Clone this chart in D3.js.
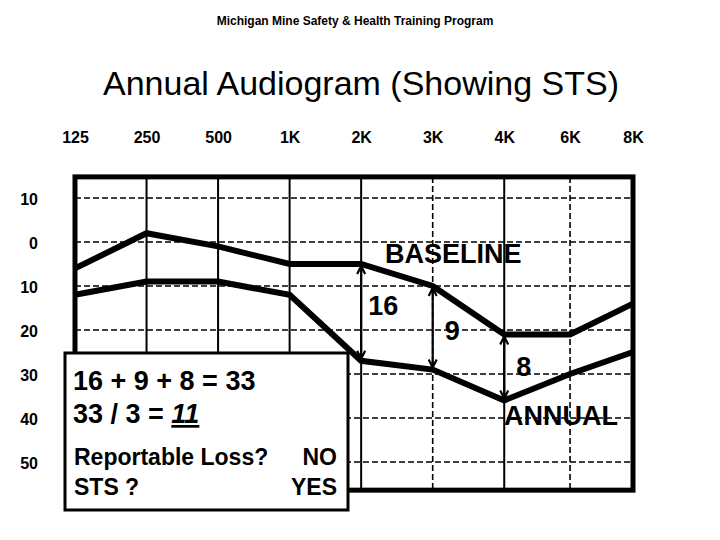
<!DOCTYPE html>
<html>
<head>
<meta charset="utf-8">
<script src="https://cdn.jsdelivr.net/npm/d3@7"></script>
<style>
  body { margin: 0; background: #fff; }
  svg { display: block; font-family: "Liberation Sans", Arial, sans-serif; }
</style>
</head>
<body>
<svg id="chart" width="720" height="540"></svg>
<script>
// frequencies across the top, with their spacing along the axis (6K and 8K are squeezed)
const freqLabels = ["125", "250", "500", "1K", "2K", "3K", "4K", "6K", "8K"];
const freqPos = [0, 1, 2, 3, 4, 5, 6, 6.92, 7.8];
const solidGrid = ["250", "500", "1K", "2K", "4K"];
const dashedGrid = ["3K", "6K"];

// hearing level ticks (dB)
const dbTicks = [-10, 0, 10, 20, 30, 40, 50];

// thresholds (dB)
const baseline = [6, -2, 1, 5, 5, 10, 21, 21, 14];
const annual = [12, 9, 9, 12, 27, 29, 36, 30, 25];

// shift arrows at 2K, 3K, 4K
const shiftFreqs = ["2K", "3K", "4K"];
const shiftLabels = ["16", "9", "8"];

const svg = d3.select("#chart");

const x = d3.scaleLinear().domain([0, 7.8]).range([75, 633]);
const y = d3.scaleLinear().domain([-10, 50]).range([198, 462]);
const posOf = f => freqPos[freqLabels.indexOf(f)];

const frameTop = y(-14.8), frameBottom = y(56.4);

// titles
svg.append("text")
    .attr("x", 355).attr("y", 25)
    .attr("text-anchor", "middle")
    .style("font-weight", "bold")
    .style("font-size", "12px")
    .text("Michigan Mine Safety & Health Training Program");

svg.append("text")
    .attr("x", 361).attr("y", 95)
    .attr("text-anchor", "middle")
    .style("font-size", "34px")
    .text("Annual Audiogram (Showing STS)");

// frequency axis on top
const fAxis = d3.axisTop(x)
    .tickValues(freqPos)
    .tickFormat((d, i) => freqLabels[i])
    .tickSize(0);
const fg = svg.append("g")
    .attr("transform", "translate(0,146)")
    .call(fAxis);
fg.select(".domain").remove();
fg.selectAll("text")
    .attr("dy", 0)
    .style("font-family", "'Liberation Sans', Arial")
    .style("font-weight", "bold")
    .style("font-size", "16px")
    .attr("fill", "#000");

// dB axis on the left (printed without minus signs)
const yAxis = d3.axisLeft(y)
    .tickValues(dbTicks)
    .tickFormat(d => Math.abs(d))
    .tickSize(0);
const yg = svg.append("g")
    .attr("transform", "translate(38,0)")
    .call(yAxis);
yg.select(".domain").remove();
yg.selectAll("text")
    .attr("x", 0)
    .attr("dy", "0.4em")
    .style("font-family", "'Liberation Sans', Arial")
    .style("font-weight", "bold")
    .style("font-size", "16px")
    .attr("fill", "#000");

// grid
const grid = svg.append("g");
grid.selectAll(".hgrid")
    .data(dbTicks)
    .enter().append("line")
    .attr("x1", x(0)).attr("x2", x(7.8))
    .attr("y1", d => y(d)).attr("y2", d => y(d))
    .attr("stroke", "#000")
    .attr("stroke-width", 1.6)
    .attr("stroke-dasharray", "6,3");
grid.selectAll(".vsolid")
    .data(solidGrid)
    .enter().append("line")
    .attr("x1", d => x(posOf(d))).attr("x2", d => x(posOf(d)))
    .attr("y1", frameTop).attr("y2", frameBottom)
    .attr("stroke", "#000")
    .attr("stroke-width", 2);
grid.selectAll(".vdash")
    .data(dashedGrid)
    .enter().append("line")
    .attr("x1", d => x(posOf(d))).attr("x2", d => x(posOf(d)))
    .attr("y1", frameTop).attr("y2", frameBottom)
    .attr("stroke", "#000")
    .attr("stroke-width", 1.6)
    .attr("stroke-dasharray", "6,3");

// audiogram lines
const line = d3.line()
    .x((d, i) => x(freqPos[i]))
    .y(d => y(d));

[baseline, annual].forEach(series => {
    svg.append("path")
        .datum(series)
        .attr("d", line)
        .attr("fill", "none")
        .attr("stroke", "#000")
        .attr("stroke-width", 6)
        .attr("stroke-linejoin", "miter");
});

// double-headed shift arrows
shiftFreqs.forEach(f => {
    const i = freqLabels.indexOf(f);
    const xi = x(freqPos[i]);
    const top = y(baseline[i]) + 2, bot = y(annual[i]) - 2;
    const p = d3.path();
    p.moveTo(xi, top); p.lineTo(xi, bot);
    p.moveTo(xi - 4, top + 8); p.lineTo(xi, top); p.lineTo(xi + 4, top + 8);
    p.moveTo(xi - 4, bot - 8); p.lineTo(xi, bot); p.lineTo(xi + 4, bot - 8);
    svg.append("path")
        .attr("d", p.toString())
        .attr("fill", "none")
        .attr("stroke", "#000")
        .attr("stroke-width", 2.2);
});

// annotations
const label = (txt, xx, yy) => svg.append("text")
    .attr("x", xx).attr("y", yy)
    .style("font-weight", "bold")
    .style("font-size", "27px")
    .text(txt);

label("BASELINE", 385, 263);
label("ANNUAL", 504, 425);
shiftFreqs.forEach((f, k) => {
    const i = freqLabels.indexOf(f);
    const xi = x(freqPos[i]);
    const mid = (y(baseline[i]) + y(annual[i])) / 2;
    label(shiftLabels[k], xi + [7, 12, 12][k], mid + [3, 12, 9][k]);
});

// frame
svg.append("rect")
    .attr("x", x(0)).attr("y", frameTop)
    .attr("width", x(7.8) - x(0)).attr("height", frameBottom - frameTop)
    .attr("fill", "none")
    .attr("stroke", "#000")
    .attr("stroke-width", 5);

// summary box
const box = svg.append("g");
box.append("rect")
    .attr("x", 65).attr("y", 353)
    .attr("width", 283).attr("height", 157)
    .attr("fill", "#fff")
    .attr("stroke", "#000")
    .attr("stroke-width", 3);

box.append("text")
    .attr("x", 73).attr("y", 390)
    .style("font-weight", "bold").style("font-size", "27px")
    .text("16 + " + shiftLabels[1] + " + " + shiftLabels[2] + " = 33");

const avg = box.append("text")
    .attr("x", 73).attr("y", 423)
    .style("font-weight", "bold").style("font-size", "27px");
avg.append("tspan").text("33 / 3 = ");
avg.append("tspan")
    .style("font-style", "italic")
    .style("text-decoration", "underline")
    .text("11");

box.append("text")
    .attr("x", 74).attr("y", 465)
    .style("font-weight", "bold").style("font-size", "23px")
    .text("Reportable Loss?");
box.append("text")
    .attr("x", 337).attr("y", 465)
    .attr("text-anchor", "end")
    .style("font-weight", "bold").style("font-size", "23px")
    .text("NO");
box.append("text")
    .attr("x", 74).attr("y", 495)
    .style("font-weight", "bold").style("font-size", "23px")
    .text("STS ?");
box.append("text")
    .attr("x", 337).attr("y", 495)
    .attr("text-anchor", "end")
    .style("font-weight", "bold").style("font-size", "23px")
    .text("YES");
</script>
</body>
</html>
